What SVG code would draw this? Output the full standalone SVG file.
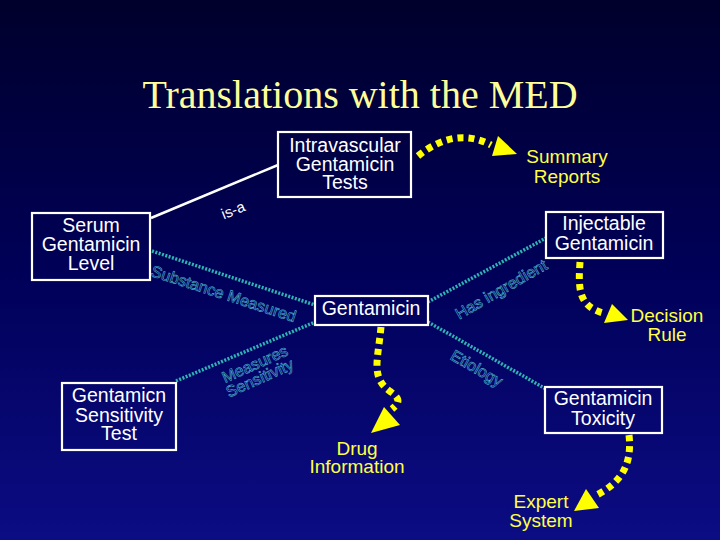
<svg xmlns="http://www.w3.org/2000/svg" width="720" height="540" viewBox="0 0 720 540">
<defs>
<linearGradient id="bg" gradientUnits="userSpaceOnUse" x1="0" y1="0" x2="0" y2="540">
<stop offset="0" stop-color="#00002c"/>
<stop offset="0.5" stop-color="#000058"/>
<stop offset="1" stop-color="#0c0c84"/>
</linearGradient>
<style>
.box{fill:url(#bg);stroke:#ffffff;stroke-width:2.2}
.nt{font-family:"Liberation Sans",Arial,sans-serif;font-size:19.5px;fill:#ffffff;text-anchor:middle}
.yt{font-family:"Liberation Sans",Arial,sans-serif;font-size:19px;fill:#ffff44;text-anchor:middle}
.lt{font-family:"Liberation Sans",Arial,sans-serif;font-size:16px;fill:none;stroke:#4ab4cc;stroke-width:0.6;text-anchor:middle}
.teal{fill:none;stroke:#2fb4b4;stroke-width:3.5;stroke-dasharray:2 1.5}
.dots{fill:none;stroke:#ffff00;stroke-width:7;stroke-dasharray:6 5}
.head{fill:#ffff00}
</style>
</defs>
<rect x="0" y="0" width="720" height="540" fill="url(#bg)"/>
<text x="360" y="108" font-family="'Liberation Serif','Times New Roman',serif" font-size="40" fill="#ffff99" text-anchor="middle">Translations with the MED</text>

<g id="connectors">
<line x1="151" y1="218" x2="278" y2="165" stroke="#ffffff" stroke-width="2.5"/>
<text x="235" y="215" transform="rotate(-22 235 215)" font-family="'Liberation Sans',Arial,sans-serif" font-size="15" fill="#ffffff" text-anchor="middle">is-a</text>
<line class="teal" x1="152" y1="251" x2="315" y2="305"/>
<text class="lt" x="222" y="299" transform="rotate(18 222 299)">Substance Measured</text>
<line class="teal" x1="176" y1="381" x2="315" y2="322"/>
<text class="lt" x="257" y="369" transform="rotate(-24 257 369)">Measures</text>
<text class="lt" x="262" y="383" transform="rotate(-24 262 383)">Sensitivity</text>
<line class="teal" x1="428" y1="302" x2="546" y2="238"/>
<text class="lt" x="504" y="294" transform="rotate(-30 504 294)">Has ingredient</text>
<line class="teal" x1="428" y1="322" x2="546" y2="389"/>
<text class="lt" x="474" y="373" transform="rotate(30 474 373)">Etiology</text>

<path class="dots" d="M418,156 Q455,126 491,145"/>
<polygon class="head" points="498,136 492,156 517,154"/>
<path class="dots" d="M580,262 C578,290 579,306 603,313"/>
<polygon class="head" points="612,304 604,323 628,320"/>
<path class="dots" d="M381,327 C378,360 370,378 391,392 C402,400 398,404 392,409"/>
<polygon class="head" points="384,407 400,425 371,433"/>
<path class="dots" d="M629,435 C633,470 616,485 595,496"/>
<polygon class="head" points="586,489 574,511 599,508"/>
</g>

<g id="intravascular">
<rect class="box" x="278" y="132" width="133" height="65"/>
<text class="nt" x="345" y="152">Intravascular</text>
<text class="nt" x="345" y="171">Gentamicin</text>
<text class="nt" x="345" y="189">Tests</text>
</g>
<g id="serum">
<rect class="box" x="32" y="213" width="118" height="67"/>
<text class="nt" x="91" y="232">Serum</text>
<text class="nt" x="91" y="251">Gentamicin</text>
<text class="nt" x="91" y="270">Level</text>
</g>
<g id="gentamicin">
<rect class="box" x="315" y="296" width="113" height="29"/>
<text class="nt" x="371" y="315">Gentamicin</text>
</g>
<g id="injectable">
<rect class="box" x="546" y="212" width="117" height="46"/>
<text class="nt" x="604" y="230">Injectable</text>
<text class="nt" x="604" y="250">Gentamicin</text>
</g>
<g id="sensitivity">
<rect class="box" x="62" y="383" width="114" height="67"/>
<text class="nt" x="119" y="402">Gentamicn</text>
<text class="nt" x="119" y="422">Sensitivity</text>
<text class="nt" x="119" y="440">Test</text>
</g>
<g id="toxicity">
<rect class="box" x="545" y="387" width="117" height="46"/>
<text class="nt" x="603" y="405">Gentamicin</text>
<text class="nt" x="603" y="425">Toxicity</text>
</g>
<g id="summary">
<text class="yt" x="567" y="163">Summary</text>
<text class="yt" x="567" y="183">Reports</text>
</g>
<g id="decision">
<text class="yt" x="667" y="322">Decision</text>
<text class="yt" x="667" y="341">Rule</text>
</g>
<g id="drug">
<text class="yt" x="357" y="455">Drug</text>
<text class="yt" x="357" y="473">Information</text>
</g>
<g id="expert">
<text class="yt" x="541" y="508">Expert</text>
<text class="yt" x="541" y="527">System</text>
</g>
</svg>
